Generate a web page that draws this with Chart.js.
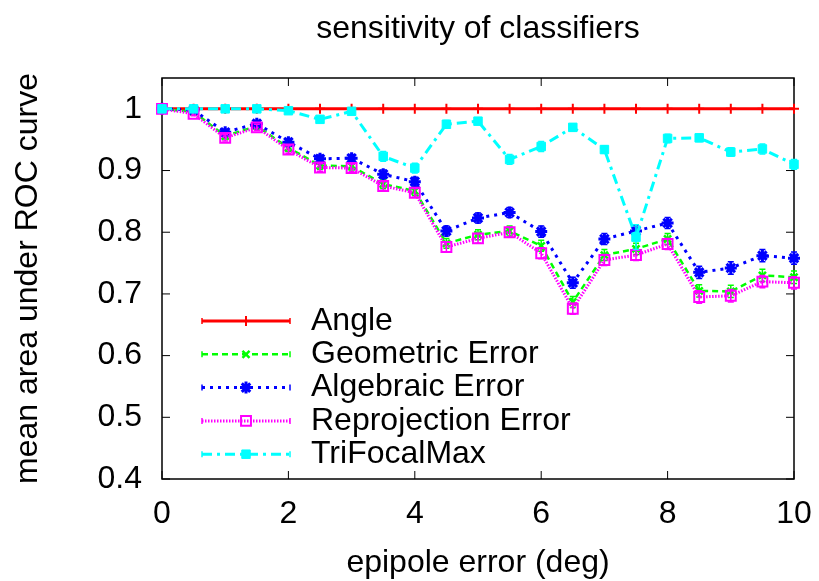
<!DOCTYPE html>
<html>
<head>
<meta charset="utf-8">
<script src="https://cdn.jsdelivr.net/npm/chart.js@4"></script>
<style>
  html, body { margin: 0; padding: 0; background: #fff; }
  canvas { display: block; }
</style>
</head>
<body>
<canvas id="myChart" width="819" height="581"></canvas>
<script>
// data
var epipoleErr = [0, 0.5, 1, 1.5, 2, 2.5, 3, 3.5, 4, 4.5, 5, 5.5, 6, 6.5, 7, 7.5, 8, 8.5, 9, 9.5, 10];
var angle = [1, 1, 1, 1, 1, 1, 1, 1, 1, 1, 1, 1, 1, 1, 1, 1, 1, 1, 1, 1, 1];
var geometric = [1.0, 0.995, 0.956, 0.972, 0.937, 0.908, 0.907, 0.878, 0.867, 0.782, 0.796, 0.802, 0.778, 0.687, 0.763, 0.773, 0.789, 0.705, 0.704, 0.730, 0.727];
var algebraic = [1.0, 0.998, 0.962, 0.976, 0.946, 0.919, 0.920, 0.894, 0.882, 0.802, 0.823, 0.832, 0.801, 0.718, 0.789, 0.802, 0.815, 0.735, 0.742, 0.762, 0.758];
var reprojection = [1.0, 0.992, 0.953, 0.970, 0.934, 0.905, 0.904, 0.875, 0.864, 0.776, 0.790, 0.800, 0.766, 0.676, 0.755, 0.763, 0.781, 0.695, 0.697, 0.720, 0.718];
var trifocal = [1.0, 1.0, 1.0, 1.0, 0.997, 0.983, 0.996, 0.923, 0.904, 0.975, 0.980, 0.918, 0.939, 0.970, 0.934, 0.792, 0.952, 0.953, 0.930, 0.935, 0.910];

// error bars (half length)
var angleErr = [0, 0, 0, 0, 0, 0, 0, 0, 0, 0, 0, 0, 0, 0, 0, 0, 0, 0, 0, 0, 0];
var geometricErr = [0, 0.003, 0.005, 0.005, 0.006, 0.006, 0.006, 0.007, 0.007, 0.008, 0.008, 0.008, 0.009, 0.009, 0.009, 0.009, 0.009, 0.010, 0.010, 0.010, 0.010];
var algebraicErr = [0, 0.003, 0.005, 0.005, 0.006, 0.006, 0.006, 0.007, 0.007, 0.008, 0.008, 0.008, 0.009, 0.009, 0.009, 0.009, 0.009, 0.010, 0.010, 0.010, 0.010];
var reprojectionErr = [0, 0.003, 0.005, 0.005, 0.006, 0.006, 0.006, 0.007, 0.007, 0.008, 0.008, 0.008, 0.009, 0.009, 0.009, 0.009, 0.009, 0.010, 0.010, 0.010, 0.010];
var trifocalErr = [0, 0.002, 0.002, 0.002, 0.003, 0.005, 0.004, 0.008, 0.008, 0.006, 0.005, 0.008, 0.008, 0.006, 0.006, 0.020, 0.007, 0.006, 0.007, 0.008, 0.008];

var xTicks = [0, 2, 4, 6, 8, 10];
var yTicks = [0.4, 0.5, 0.6, 0.7, 0.8, 0.9, 1];

function pts(ys) {
    return ys.map(function (v, i) { return { x: epipoleErr[i], y: v }; });
}

Chart.defaults.font.family = '"Liberation Sans", Arial, sans-serif';
Chart.defaults.color = '#000';

// box with inward ticks, like gnuplot
var frame = {
    id: 'frame',
    beforeDatasetsDraw: function (chart) {
        var ctx = chart.ctx, a = chart.chartArea, x = chart.scales.x, y = chart.scales.y;
        ctx.save();
        ctx.strokeStyle = '#000';
        ctx.lineWidth = 1;
        ctx.beginPath();
        xTicks.forEach(function (v) {
            var px = x.getPixelForValue(v);
            ctx.moveTo(px, a.bottom); ctx.lineTo(px, a.bottom - 8);
            ctx.moveTo(px, a.top); ctx.lineTo(px, a.top + 8);
        });
        yTicks.forEach(function (v) {
            var py = y.getPixelForValue(v);
            ctx.moveTo(a.left, py); ctx.lineTo(a.left + 8, py);
            ctx.moveTo(a.right, py); ctx.lineTo(a.right - 8, py);
        });
        ctx.stroke();
        ctx.lineWidth = 1.5;
        ctx.strokeRect(a.left, a.top, a.right - a.left, a.bottom - a.top);
        ctx.restore();
    }
};

var errorBars = {
    id: 'errorBars',
    afterDatasetDraw: function (chart, args) {
        var ds = chart.data.datasets[args.index];
        if (!ds.errors) return;
        var ctx = chart.ctx, y = chart.scales.y;
        ctx.save();
        ctx.setLineDash([]);
        ctx.strokeStyle = ds.borderColor;
        ctx.lineWidth = 1.5;
        ctx.beginPath();
        args.meta.data.forEach(function (p, i) {
            var e = ds.errors[i];
            if (!e) return;
            var v = ds.data[i].y;
            var y1 = y.getPixelForValue(v - e), y2 = y.getPixelForValue(v + e);
            ctx.moveTo(p.x, y1); ctx.lineTo(p.x, y2);
            ctx.moveTo(p.x - 3, y1); ctx.lineTo(p.x + 3, y1);
            ctx.moveTo(p.x - 3, y2); ctx.lineTo(p.x + 3, y2);
        });
        ctx.stroke();
        ctx.restore();
    }
};

// legend inside the plot, bottom left
var keyBox = {
    id: 'keyBox',
    afterDraw: function (chart) {
        var ctx = chart.ctx, a = chart.chartArea;
        var x0 = a.left + 40, x1 = a.left + 128, xm = (x0 + x1) / 2;
        var top = a.top + 243, step = 33.3;
        ctx.save();
        chart.data.datasets.forEach(function (ds, i) {
            var yy = top + i * step;
            ctx.strokeStyle = ds.borderColor;
            ctx.lineWidth = ds.borderWidth;
            ctx.setLineDash(ds.borderDash || []);
            ctx.beginPath();
            ctx.moveTo(x0, yy); ctx.lineTo(x1, yy);
            ctx.stroke();
            ctx.setLineDash([]);
            ctx.lineWidth = 1.5;
            ctx.beginPath();
            ctx.moveTo(x0, yy - 3); ctx.lineTo(x0, yy + 3);
            ctx.moveTo(x1, yy - 3); ctx.lineTo(x1, yy + 3);
            ctx.stroke();
            ctx.fillStyle = ds.pointBackgroundColor;
            ctx.strokeStyle = ds.borderColor;
            ctx.lineWidth = ds.pointBorderWidth;
            Chart.helpers.drawPoint(ctx, {
                pointStyle: ds.pointStyle, radius: ds.pointRadius,
                borderWidth: ds.pointBorderWidth, rotation: 0
            }, xm, yy);
            ctx.fillStyle = '#000';
            ctx.font = '32px "Liberation Sans", Arial, sans-serif';
            ctx.textBaseline = 'middle';
            ctx.textAlign = 'left';
            ctx.fillText(ds.label, x1 + 21, yy);
        });
        ctx.restore();
    }
};

var ctx = document.getElementById('myChart').getContext('2d');
var myChart = new Chart(ctx, {
    type: 'line',
    data: {
        datasets: [
            {
                label: 'Angle',
                data: pts(angle),
                errors: angleErr,
                borderColor: '#ff0000',
                borderWidth: 3,
                pointStyle: 'cross',
                pointRadius: 5,
                pointBorderWidth: 2,
                pointBackgroundColor: '#ff0000',
                order: 5
            },
            {
                label: 'Geometric Error',
                data: pts(geometric),
                errors: geometricErr,
                borderColor: '#00ff00',
                borderWidth: 2.5,
                borderDash: [6, 4],
                pointStyle: 'crossRot',
                pointRadius: 5,
                pointBorderWidth: 2.5,
                pointBackgroundColor: '#00ff00',
                order: 4
            },
            {
                label: 'Algebraic Error',
                data: pts(algebraic),
                errors: algebraicErr,
                borderColor: '#0000ff',
                borderWidth: 3,
                borderDash: [3, 5],
                pointStyle: 'star',
                pointRadius: 6,
                pointBorderWidth: 3,
                pointBackgroundColor: '#0000ff',
                order: 3
            },
            {
                label: 'Reprojection Error',
                data: pts(reprojection),
                errors: reprojectionErr,
                borderColor: '#ff00ff',
                borderWidth: 3,
                borderDash: [1.5, 1.5],
                pointStyle: 'rect',
                pointRadius: 7,
                pointBorderWidth: 2,
                pointBackgroundColor: 'rgba(0,0,0,0)',
                order: 2
            },
            {
                label: 'TriFocalMax',
                data: pts(trifocal),
                errors: trifocalErr,
                borderColor: '#00ffff',
                borderWidth: 3,
                borderDash: [10, 5, 3, 5],
                pointStyle: 'rect',
                pointRadius: 6,
                pointBorderWidth: 1,
                pointBackgroundColor: '#00ffff',
                order: 1
            }
        ]
    },
    options: {
        responsive: false,
        animation: false,
        events: [],
        layout: { padding: { left: 0, right: 25, top: 0, bottom: 0 } },
        elements: { line: { tension: 0, fill: false } },
        datasets: { line: { clip: false } },
        plugins: {
            legend: { display: false },
            tooltip: { enabled: false },
            title: {
                display: true,
                fullSize: false,
                text: 'sensitivity of classifiers',
                font: { size: 32, weight: 'normal', lineHeight: 1.2 },
                color: '#000',
                padding: { top: 10, bottom: 29.6 }
            }
        },
        scales: {
            x: {
                type: 'linear',
                min: 0,
                max: 10,
                afterBuildTicks: function (s) { s.ticks = xTicks.map(function (v) { return { value: v }; }); },
                afterFit: function (s) { s.height = 102; s.paddingLeft = 0; s.paddingRight = 0; },
                grid: { display: false, drawTicks: false },
                border: { display: false },
                ticks: { font: { size: 32 }, padding: 16, maxRotation: 0 },
                title: {
                    display: true,
                    text: 'epipole error (deg)',
                    font: { size: 32, lineHeight: 1.1 },
                    padding: { top: 0, bottom: 0 }
                }
            },
            y: {
                min: 0.4,
                max: 1.05,
                afterBuildTicks: function (s) { s.ticks = yTicks.map(function (v) { return { value: v }; }); },
                afterFit: function (s) { s.width = 162; },
                grid: { display: false, drawTicks: false },
                border: { display: false },
                ticks: {
                    font: { size: 32 },
                    padding: 20,
                    callback: function (v) { return String(v); }
                },
                title: {
                    display: true,
                    text: 'mean area under ROC curve',
                    font: { size: 32, lineHeight: 1.2 },
                    padding: { top: 9, bottom: 0 }
                }
            }
        }
    },
    plugins: [frame, errorBars, keyBox]
});
</script>
</body>
</html>
